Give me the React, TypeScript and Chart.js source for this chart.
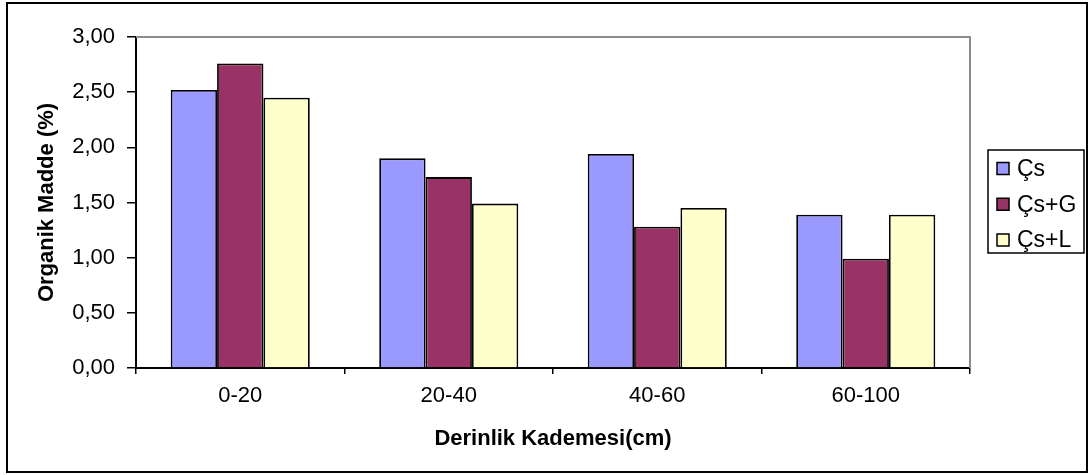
import React, { useEffect, useRef } from "react";
import { Chart, registerables } from "chart.js";

Chart.register(...registerables);

// Depth classes (cm) and organic matter (%) per treatment
const categories = ["0-20", "20-40", "40-60", "60-100"];
const seriesNames = ["Çs", "Çs+G", "Çs+L"];
const csValues = [2.52, 1.9, 1.94, 1.39];
const csGValues = [2.76, 1.73, 1.28, 0.99];
const csLValues = [2.45, 1.49, 1.45, 1.39];
const seriesColors = ["#9999FF", "#993366", "#FFFFCC"];

const FONT = "'Liberation Sans', Arial, Helvetica, sans-serif";

// Outer frame around the whole figure plus the grey plot-area border
const framePlugin = {
  id: "frame",
  beforeDatasetsDraw(chart: any) {
    const { ctx, chartArea } = chart;
    ctx.save();
    ctx.strokeStyle = "#8c8c8c";
    ctx.lineWidth = 2;
    ctx.beginPath();
    ctx.moveTo(chartArea.left, chartArea.top);
    ctx.lineTo(chartArea.right, chartArea.top);
    ctx.lineTo(chartArea.right, chartArea.bottom);
    ctx.stroke();
    ctx.restore();
  },
  afterDraw(chart: any) {
    const { ctx } = chart;
    ctx.save();
    ctx.strokeStyle = "#000";
    ctx.lineWidth = 2;
    ctx.strokeRect(7, 3, 1080, 469);
    ctx.restore();
  },
};

// Boxed legend to the right of the plot area
const boxLegendPlugin = {
  id: "boxLegend",
  afterDraw(chart: any, _args: any, opts: any) {
    const { ctx } = chart;
    const { x, y, width, height, rowStart, rowGap, box, textX, font } = opts;
    ctx.save();
    ctx.fillStyle = "#fff";
    ctx.fillRect(x, y, width, height);
    ctx.strokeStyle = "#000";
    ctx.lineWidth = 1.5;
    ctx.strokeRect(x, y, width, height);
    ctx.font = font;
    ctx.textBaseline = "middle";
    ctx.textAlign = "left";
    chart.data.datasets.forEach((ds: any, i: number) => {
      const cy = y + rowStart + i * rowGap;
      ctx.fillStyle = ds.backgroundColor;
      ctx.fillRect(x + 9, cy - box / 2, box, box);
      ctx.strokeStyle = "#000";
      ctx.lineWidth = 1.5;
      ctx.strokeRect(x + 9, cy - box / 2, box, box);
      ctx.fillStyle = "#000";
      ctx.fillText(ds.label, textX, cy + 1);
    });
    ctx.restore();
  },
};

export default function App() {
  const canvasRef = useRef<HTMLCanvasElement | null>(null);

  useEffect(() => {
    if (!canvasRef.current) return;
    const valueSets = [csValues, csGValues, csLValues];
    const chart = new Chart(canvasRef.current, {
      type: "bar",
      data: {
        labels: categories,
        datasets: seriesNames.map((name, i) => ({
          label: name,
          data: valueSets[i],
          backgroundColor: seriesColors[i],
          borderColor: "#000",
          borderWidth: 1.8,
          categoryPercentage: 0.667,
          barPercentage: 1.0,
        })),
      },
      options: {
        animation: false,
        responsive: false,
        devicePixelRatio: 1,
        layout: { padding: { top: 37, right: 121, left: 0, bottom: 0 } },
        plugins: {
          legend: { display: false },
          tooltip: { enabled: false },
          boxLegend: {
            x: 988,
            y: 150,
            width: 96,
            height: 103,
            rowStart: 18.5,
            rowGap: 35.75,
            box: 12,
            textX: 1017,
            font: `23px ${FONT}`,
          },
        } as any,
        scales: {
          x: {
            afterFit(scale: any) {
              scale.height = 107;
            },
            grid: {
              display: true,
              drawOnChartArea: false,
              drawTicks: true,
              tickLength: 6,
              offset: true,
              color: "#000",
              lineWidth: 1.5,
            },
            border: { display: true, color: "#000", width: 2 },
            ticks: {
              color: "#000",
              font: { family: FONT, size: 22 },
              padding: 9,
              maxRotation: 0,
            },
            title: {
              display: true,
              text: "Derinlik Kademesi(cm)",
              color: "#000",
              font: { family: FONT, size: 22, weight: "bold" },
              padding: { top: 0, bottom: 23 },
            },
          },
          y: {
            min: 0,
            max: 3,
            afterFit(scale: any) {
              scale.width = 136;
            },
            grid: {
              display: true,
              drawOnChartArea: false,
              drawTicks: true,
              tickLength: 9,
              color: "#000",
              lineWidth: 1.5,
            },
            border: { display: true, color: "#000", width: 2 },
            ticks: {
              stepSize: 0.5,
              color: "#000",
              font: { family: FONT, size: 22 },
              padding: 12,
              callback: (v: any) => Number(v).toFixed(2).replace(".", ","),
            },
            title: {
              display: true,
              text: "Organik Madde (%)",
              color: "#000",
              font: { family: FONT, size: 22, weight: "bold" },
              padding: { top: 34, bottom: 0 },
            },
          },
        },
      },
      plugins: [framePlugin, boxLegendPlugin],
    });
    return () => chart.destroy();
  }, []);

  return (
    <div style={{ position: "fixed", left: 0, top: 0, width: 1091, height: 475, background: "#fff" }}>
      <canvas ref={canvasRef} width={1091} height={475} />
    </div>
  );
}
